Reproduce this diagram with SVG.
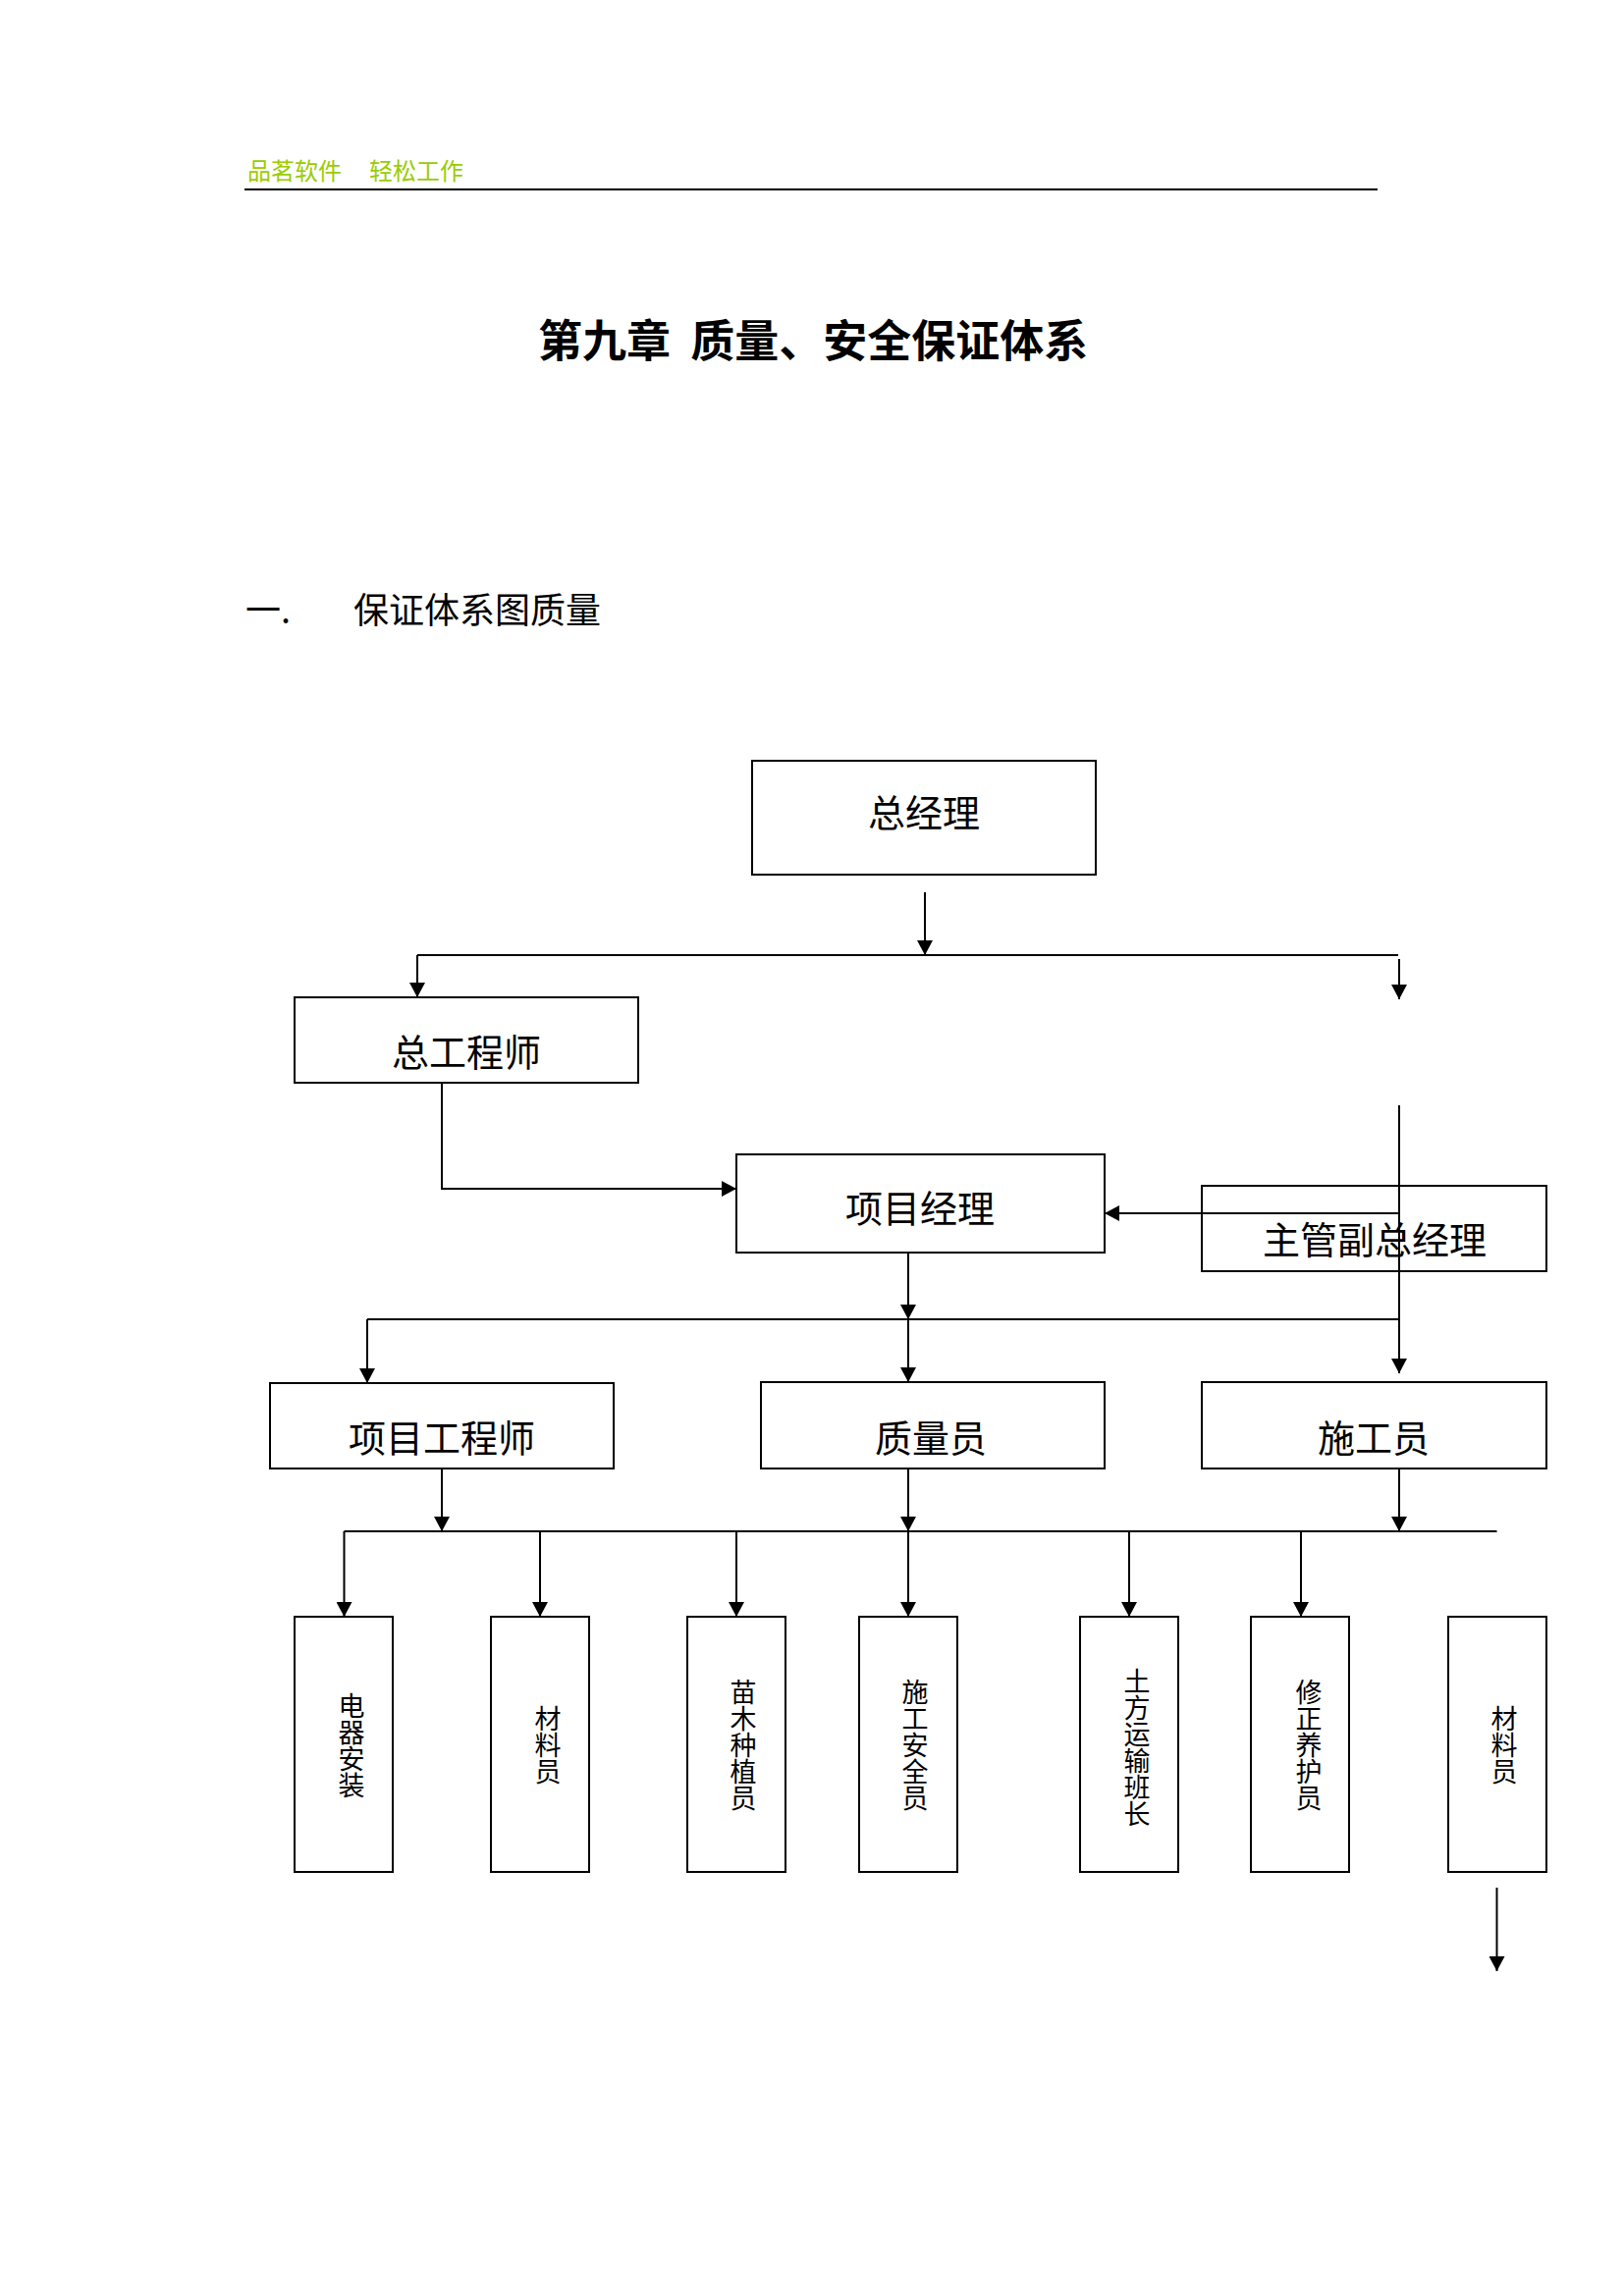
<svg xmlns="http://www.w3.org/2000/svg" width="1654" height="2339" viewBox="0 0 1654 2339">
<style>
  .hdr{font-family:"Noto Sans CJK SC","Noto Sans",sans-serif;font-size:24px;fill:#99cc00}
  .title{font-family:"Noto Sans CJK SC","Noto Sans",sans-serif;font-size:45px;font-weight:bold;fill:#000}
  .sec{font-family:"Noto Sans CJK SC","Noto Sans",sans-serif;font-size:36px;fill:#000}
  .box{fill:#fff;stroke:#000;stroke-width:2}
  .lbl{font-family:"Noto Sans CJK SC","Noto Sans",sans-serif;font-size:38px;fill:#000;text-anchor:middle}
  .vlbl{font-family:"Noto Sans CJK SC","Noto Sans",sans-serif;font-size:27px;fill:#000;text-anchor:middle;writing-mode:vertical-rl}
  .ln{fill:none;stroke:#000;stroke-width:2}
  .ar{fill:none;stroke:#000;stroke-width:2;marker-end:url(#ah)}
</style>
<defs>
  <marker id="ah" markerUnits="userSpaceOnUse" markerWidth="16" markerHeight="16" refX="15" refY="8" orient="auto">
    <path d="M0,0 L15,8 L0,16 Z" fill="#000"/>
  </marker>
</defs>
<rect width="1654" height="2339" fill="#fff"/>

<g id="header">
  <text class="hdr" x="252" y="183">品茗软件<tspan x="376">轻松工作</tspan></text>
  <line x1="249" y1="193" x2="1403" y2="193" stroke="#000" stroke-width="2"/>
</g>
<g id="title">
  <text class="title" x="548" y="364">第九章 <tspan dx="10">质量、安全保证体系</tspan></text>
</g>
<g id="section">
  <text class="sec" x="250" y="635">一.<tspan x="360">保证体系图质量</tspan></text>
</g>

<g id="n-zongjingli"><rect class="box" x="766" y="775" width="350" height="116"/><text class="lbl" x="941" y="842">总经理</text></g>
<g id="n-zonggongchengshi"><rect class="box" x="300" y="1016" width="350" height="87"/><text class="lbl" x="475" y="1086">总工程师</text></g>
<g id="n-xiangmujingli"><rect class="box" x="750" y="1176" width="375" height="100"/><text class="lbl" x="937" y="1245">项目经理</text></g>
<g id="n-zhuguan"><rect class="box" x="1224" y="1208" width="351" height="87"/><text class="lbl" x="1400" y="1277">主管副总经理</text></g>
<g id="n-xiangmugongchengshi"><rect class="box" x="275" y="1409" width="350" height="87"/><text class="lbl" x="450" y="1479">项目工程师</text></g>
<g id="n-zhiliangyuan"><rect class="box" x="775" y="1408" width="350" height="88"/><text class="lbl" x="948" y="1479">质量员</text></g>
<g id="n-shigongyuan"><rect class="box" x="1224" y="1408" width="351" height="88"/><text class="lbl" x="1399" y="1479">施工员</text></g>

<g id="n-dianqi"><rect class="box" x="300" y="1647" width="100" height="260"/><text class="vlbl" x="358" y="1778">电器安装</text></g>
<g id="n-cailiao1"><rect class="box" x="500" y="1647" width="100" height="260"/><text class="vlbl" x="558" y="1778">材料员</text></g>
<g id="n-miaomu"><rect class="box" x="700" y="1647" width="100" height="260"/><text class="vlbl" x="757" y="1778">苗木种植员</text></g>
<g id="n-anquan"><rect class="box" x="875" y="1647" width="100" height="260"/><text class="vlbl" x="932" y="1778">施工安全员</text></g>
<g id="n-tufang"><rect class="box" x="1100" y="1647" width="100" height="260"/><text class="vlbl" x="1158" y="1780">土方运输班长</text></g>
<g id="n-yanghu"><rect class="box" x="1274" y="1647" width="100" height="260"/><text class="vlbl" x="1333" y="1778">修正养护员</text></g>
<g id="n-cailiao2"><rect class="box" x="1475" y="1647" width="100" height="260"/><text class="vlbl" x="1532" y="1778">材料员</text></g>

<g id="connectors">
  <path class="ar" d="M942,909 V973"/>
  <path class="ln" d="M425,973 H1424"/>
  <path class="ar" d="M425,973 V1016"/>
  <path class="ar" d="M1425,977 V1018"/>
  <path class="ar" d="M450,1103 V1211 H750"/>
  <path class="ar" d="M1425,1126 V1399"/>
  <path class="ar" d="M1425,1236 H1125"/>
  <path class="ar" d="M925,1276 V1344"/>
  <path class="ln" d="M374,1344 H1425"/>
  <path class="ar" d="M374,1344 V1409"/>
  <path class="ar" d="M925,1344 V1408"/>
  <path class="ar" d="M450,1496 V1560"/>
  <path class="ar" d="M925,1496 V1560"/>
  <path class="ar" d="M1425,1496 V1560"/>
  <path class="ln" d="M350.5,1560 H1524.5"/>
  <path class="ar" d="M350.5,1560 V1647"/>
  <path class="ar" d="M550,1560 V1647"/>
  <path class="ar" d="M750,1560 V1647"/>
  <path class="ar" d="M925,1560 V1647"/>
  <path class="ar" d="M1150,1560 V1647"/>
  <path class="ar" d="M1325,1560 V1647"/>
  <path class="ar" d="M1524.5,1923 V2008"/>
</g>
</svg>
